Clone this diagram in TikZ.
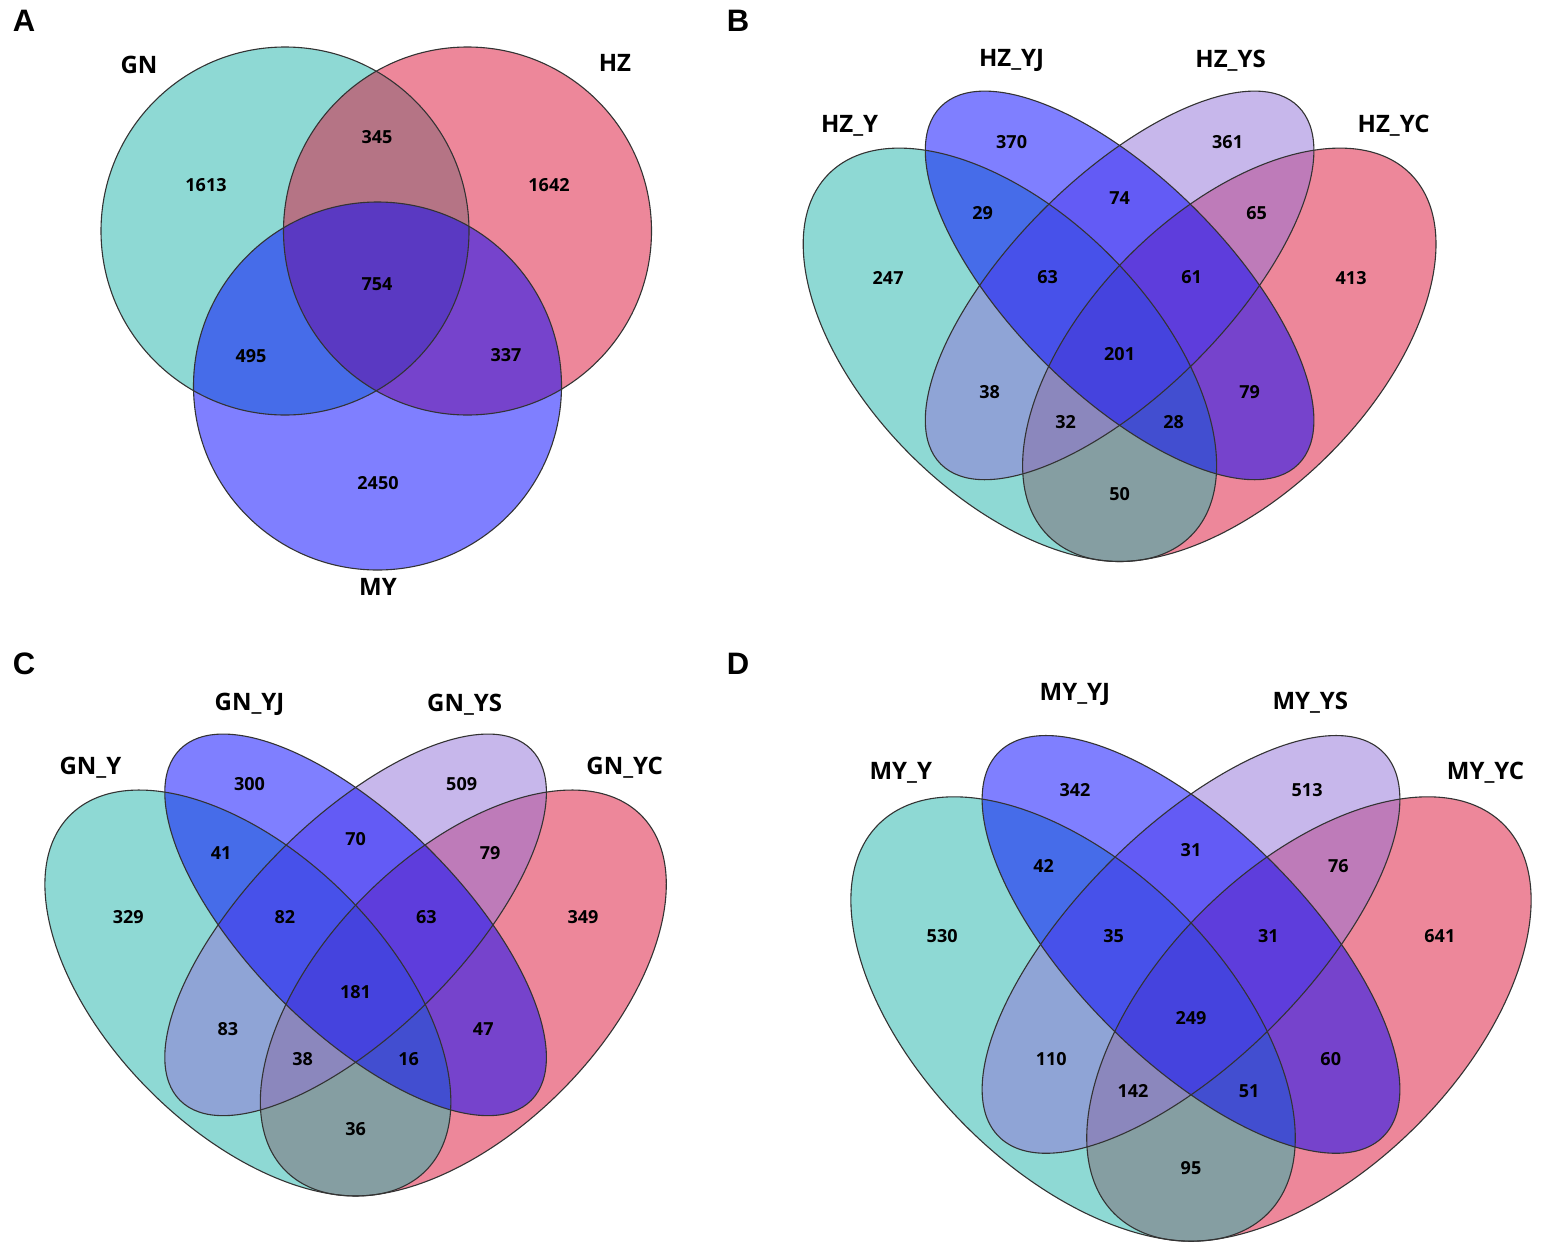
\documentclass[tikz,border=0pt]{standalone}
\usepackage{fontspec}
\setmainfont{Open Sans}
\newfontfamily\letterfont{Liberation Sans}
\definecolor{vteal}{RGB}{31,181,171}
\definecolor{vred}{RGB}{221,17,55}
\definecolor{vblue}{RGB}{0,0,255}
\definecolor{vlilac}{RGB}{145,113,217}
\tikzset{
  outline/.style={draw=black!80, line width=1.1pt},
  cnt/.style={font=\bfseries\fontsize{18}{20}\selectfont, inner sep=0pt},
  setname/.style={font=\bfseries\fontsize{24}{28}\selectfont, inner sep=0pt},
  letter/.style={font=\letterfont\bfseries\fontsize{31}{34}\selectfont, inner sep=0pt},
}
\newcommand{\quadvenn}[1]{%
  \begin{scope}[fill opacity=0.5]
    \fill[vred, rotate around={45:(109.7,0)}] (109.7,0) ellipse [x radius=256, y radius=141];
    \fill[vteal, rotate around={-45:(-109.7,0)}] (-109.7,0) ellipse [x radius=256, y radius=141];
    \fill[vlilac, rotate around={45:(0,69.4)}] (0,69.4) ellipse [x radius=252.8, y radius=107.5];
    \fill[vblue, rotate around={-45:(0,69.4)}] (0,69.4) ellipse [x radius=252.8, y radius=107.5];
  \end{scope}
  \foreach \cx/\cy/\ang/\ra/\rb in {109.7/0/45/256/141, -109.7/0/-45/256/141,
      0/69.4/45/252.8/107.5, 0/69.4/-45/252.8/107.5}
    \draw[outline, rotate around={\ang:(\cx,\cy)}] (\cx,\cy) ellipse [x radius=\ra, y radius=\rb];
  \foreach \r/\px/\py in {a/-231.5/77, b/-108/213, c/108/213, d/231.5/77,
      ab/-137/142, bc/0/157, cd/137/142, abc/-72/77.5, bcd/72/77.5, abcd/0/1,
      ac/-130/-37, bd/130/-37, acd/-54/-67, abd/54/-67, ad/0/-139,
      ly/-270/229, lyj/-108/294, lys/111/294, lyc/274/229}
    \coordinate (#1-\r) at (\px,\py);
}
\begin{document}
\begin{tikzpicture}[x=1pt, y=1pt]
  \useasboundingbox (0,0) rectangle (1544,-1253);
  \fill[white] (0,0) rectangle (1544,-1253);

  \begin{scope}[fill opacity=0.5]
    \fill[vteal] (285,-231) circle (184);
    \fill[vred] (467.5,-231) circle (184);
    \fill[vblue] (377.5,-386) circle (184);
  \end{scope}
  \foreach \cx/\cy in {285/-231, 467.5/-231, 377.5/-386}
    \draw[outline] (\cx,\cy) circle (184);
  \foreach \n/\px/\py/\v in {gn/206/185/1613, gnhz/377/137/345, hz/549/185/1642,
      all/377/284/754, gnmy/251/356/495, hzmy/506/355/337, my/378/483/2450}
    \node[cnt] (A-\n) at (\px,-\py) {\v};
  \node[setname] (A-gn-lbl) at (139,-65) {GN};
  \node[setname] (A-hz-lbl) at (615,-63) {HZ};
  \node[setname] (A-my-lbl) at (378,-587) {MY};

  \begin{scope}[shift={(1119.6,-354.8)}]
    \quadvenn{B}
  \end{scope}
  \foreach \r/\v in {a/247, b/370, c/361, d/413, ab/29, bc/74, cd/65, abc/63, bcd/61,
      abcd/201, ac/38, bd/79, acd/32, abd/28, ad/50}
    \node[cnt] (B-\r-n) at (B-\r) {\v};
  \foreach \r/\t in {ly/HZ\_Y, lyj/HZ\_YJ, lys/HZ\_YS, lyc/HZ\_YC}
    \node[setname] (B-\r-n) at (B-\r) {\t};

  \begin{scope}[shift={(355.6,-993)}, scale=0.982]
    \quadvenn{C}
  \end{scope}
  \foreach \r/\v in {a/329, b/300, c/509, d/349, ab/41, bc/70, cd/79, abc/82, bcd/63,
      abcd/181, ac/83, bd/47, acd/38, abd/16, ad/36}
    \node[cnt] (C-\r-n) at (C-\r) {\v};
  \foreach \r/\t in {ly/GN\_Y, lyj/GN\_YJ, lys/GN\_YS, lyc/GN\_YC}
    \node[setname] (C-\r-n) at (C-\r) {\t};

  \begin{scope}[shift={(1191,-1019)}, scale=1.075]
    \quadvenn{D}
  \end{scope}
  \foreach \r/\v in {a/530, b/342, c/513, d/641, ab/42, bc/31, cd/76, abc/35, bcd/31,
      abcd/249, ac/110, bd/60, acd/142, abd/51, ad/95}
    \node[cnt] (D-\r-n) at (D-\r) {\v};
  \foreach \r/\t/\dy in {ly/MY\_Y/0, lyj/MY\_YJ/9, lys/MY\_YS/0, lyc/MY\_YC/0}
    \node[setname] (D-\r-n) at ([yshift=\dy pt]D-\r) {\t};

  \node[letter] (A-letter) at (24,-21) {A};
  \node[letter] (B-letter) at (738,-21) {B};
  \node[letter] (C-letter) at (24,-664) {C};
  \node[letter] (D-letter) at (738,-664) {D};
\end{tikzpicture}
\end{document}
